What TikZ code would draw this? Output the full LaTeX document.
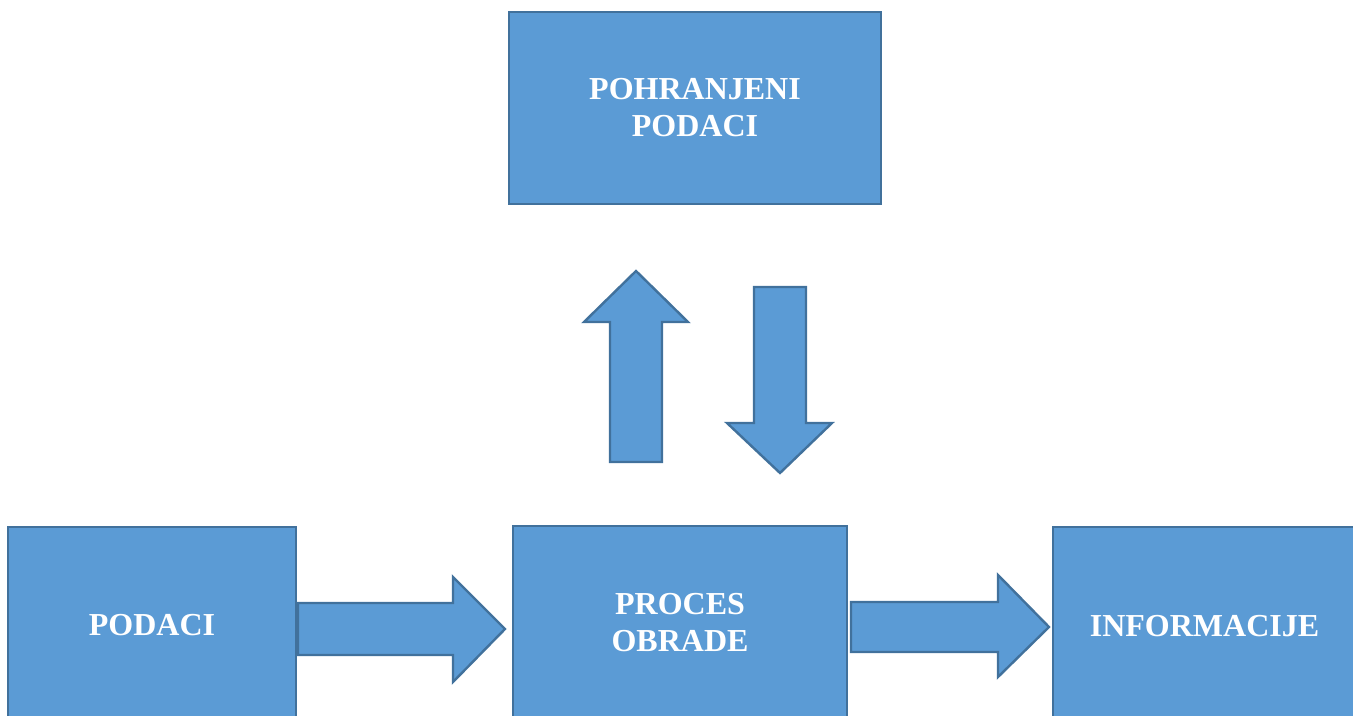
\documentclass[tikz,border=0pt]{standalone}
\usepackage{fontspec}
\setmainfont{Liberation Serif}
\definecolor{boxfill}{HTML}{5B9BD5}
\definecolor{boxline}{HTML}{41719C}
\tikzset{
  blockbox/.style={draw=boxline, fill=boxfill, line width=1.2pt, inner sep=0pt,
    text=white, font=\fontsize{16}{18.5}\selectfont\bfseries, align=center},
  blockarrow/.style={draw=boxline, fill=boxfill, line width=1.2pt, line join=miter}
}
\begin{document}
\begin{tikzpicture}[x=0.5pt, y=-0.5pt]
\useasboundingbox (0,0) rectangle (1353,716);
\clip (0,0) rectangle (1353,716);
\node[blockbox, minimum width=144pt, minimum height=98.5pt] (podaci) at (152,625.5) {PODACI};
\node[blockbox, minimum width=167pt, minimum height=97pt] (proces) at (680,623) {PROCES\\OBRADE};
\node[blockbox, minimum width=151.5pt, minimum height=99pt] (info) at (1204.5,626) {INFORMACIJE};
\node[blockbox, minimum width=186pt, minimum height=96pt] (pohr) at (695,108) {POHRANJENI\\PODACI};
% right arrow: podaci -> proces
\draw[blockarrow] (298,603) -- (453,603) -- (453,577) -- (505,629) -- (453,682) -- (453,655) -- (298,655) -- cycle;
% right arrow: proces -> info
\draw[blockarrow] (851,602) -- (998,602) -- (998,575) -- (1049,627) -- (998,677) -- (998,652) -- (851,652) -- cycle;
% up arrow: proces -> pohr
\draw[blockarrow] (610,462) -- (610,322) -- (584,322) -- (636,271) -- (688,322) -- (662,322) -- (662,462) -- cycle;
% down arrow: pohr -> proces
\draw[blockarrow] (754,287) -- (806,287) -- (806,423) -- (832,423) -- (780,473) -- (727,423) -- (754,423) -- cycle;
\end{tikzpicture}
\end{document}
